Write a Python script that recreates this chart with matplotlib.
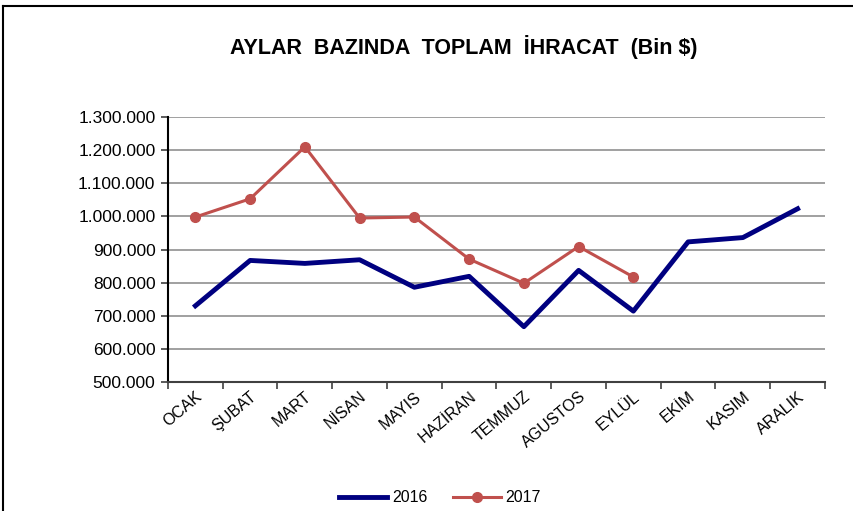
import matplotlib
matplotlib.use("Agg")
import matplotlib.pyplot as plt
import numpy as np
from matplotlib.ticker import FuncFormatter

plt.rcParams['font.family'] = ['Liberation Sans', 'DejaVu Sans']

months = ["OCAK", "ŞUBAT", "MART", "NİSAN", "MAYIS", "HAZİRAN",
          "TEMMUZ", "AGUSTOS", "EYLÜL", "EKİM", "KASIM", "ARALIK"]
y2016 = [730000, 867000, 858000, 869000, 786000, 819000,
         667000, 837000, 714000, 923000, 936000, 1023000]
y2017 = [998000, 1053000, 1210000, 995000, 998000, 871000,
         798000, 909000, 817000]

fig = plt.figure(figsize=(8.54, 5.11), dpi=100)
ax = fig.add_axes([168/854, 1 - 382/511, (825 - 168)/854, (382 - 117)/511])

x = np.arange(len(months))
ax.plot(x, y2016, color="#000080", lw=3.5, label="2016")
ax.plot(x[:len(y2017)], y2017, color="#C0504D", lw=2.2, marker="o", ms=7,
        label="2017")

ax.set_xlim(-0.5, len(months) - 0.5)
ax.set_ylim(500000, 1300000)
ax.set_yticks(np.arange(500000, 1300001, 100000))
ax.yaxis.set_major_formatter(FuncFormatter(lambda v, p: f"{int(v):,}".replace(",", ".")))
ax.grid(axis="y", color="#909090", lw=1.2)
ax.set_axisbelow(True)

ax.set_xticks(np.arange(-0.5, len(months), 1))
ax.set_xticklabels([])
ax.set_xticks(x, minor=True)
ax.set_xticklabels(months, minor=True, rotation=40, ha="right",
                   rotation_mode="anchor", fontsize=11.5)
ax.tick_params(axis="x", which="minor", length=0, pad=5)
ax.tick_params(axis="x", which="major", length=5, width=1.2, color="#404040")
ax.tick_params(axis="y", length=5, width=1.2, color="#404040", labelsize=12.5, pad=4)

for s in ["top", "right"]:
    ax.spines[s].set_visible(False)
ax.spines["left"].set_linewidth(1.5)
ax.spines["bottom"].set_linewidth(1.5)
ax.spines["bottom"].set_color("#404040")

fig.text(464/854, 1 - 47/511, "AYLAR  BAZINDA  TOPLAM  İHRACAT  (Bin $)",
         ha="center", va="center", fontsize=15.5, fontweight="bold")

fig.legend(loc="center", bbox_to_anchor=(440/854, 1 - 498/511), ncol=2,
           frameon=False, fontsize=11.5, handlelength=3.0, columnspacing=1.6,
           handletextpad=0.3)

# chart frame (left and top edges visible)
fig.add_artist(plt.Line2D([3/854, 3/854], [0, 1 - 6/511], color="black", lw=1.5))
fig.add_artist(plt.Line2D([3/854, 1], [1 - 6/511, 1 - 6/511], color="black", lw=1.5))

fig.savefig("out.png", dpi=100)
